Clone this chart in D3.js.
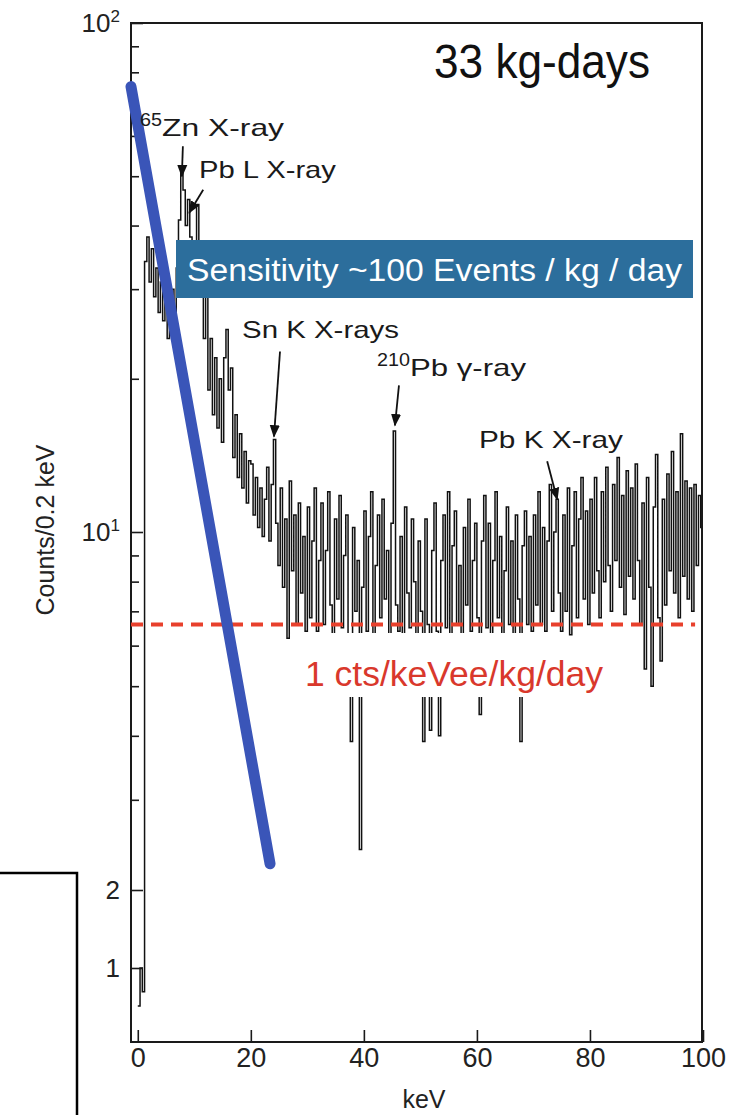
<!DOCTYPE html>
<html>
<head>
<meta charset="utf-8">
<script src="https://cdn.jsdelivr.net/npm/d3@7"></script>
<style>
body { margin: 0; background: #fff; }
svg text { font-family: "Liberation Sans", Arial, sans-serif; }
</style>
</head>
<body>
<script>
var w = 733;
var h = 1115;

// spectrum: counts per 0.2 keV, one value every 0.4 keV starting at 0 keV
var binStep = 0.4;
var counts = [
  0.7, 1.0, 0.8, 34, 38, 31, 36, 29, 33, 27, 31, 26, 29, 24, 27, 30, 26, 33, 41, 52, 47, 40, 45, 38, 33,
  36, 44, 29, 33, 24, 30, 19, 24, 17, 22, 16, 20, 15, 22, 25, 19, 21, 14, 17, 12.8, 15.6, 12.2, 14.4, 11.4, 13.8,
  13.6, 10.8, 12.8, 10.2, 12.2, 9.8, 11.6, 13.4, 9.6, 12.4, 15.2, 10.4, 8.6, 12.2, 7.8, 10.6, 6.2, 12.6, 8.4, 10.8, 6.6, 11.4, 7.6, 9.8, 6.4,
  11.2, 6.8, 9.6, 12.2, 6.4, 8.8, 11.4, 6.6, 9.2, 12.0, 7.2, 6.2, 10.6, 7.4, 11.8, 6.5, 9.0, 10.8, 6.3, 3.9, 10.2, 7.0, 8.8, 2.4, 7.8,
  11.0, 6.4, 9.8, 12.0, 6.2, 8.6, 10.8, 6.8, 11.6, 7.4, 9.2, 6.3, 10.4, 15.8, 7.2, 6.4, 9.8, 6.2, 11.2, 7.6, 6.5, 10.6, 8.0, 6.2, 9.6,
  7.0, 3.9, 10.6, 6.6, 4.1, 9.2, 11.4, 6.4, 4.0, 8.8, 10.8, 6.5, 12.0, 6.2, 9.4, 11.0, 6.6, 8.6, 6.3, 10.2, 7.2, 11.6, 6.4, 8.8, 10.4,
  6.8, 4.4, 9.6, 11.8, 6.5, 10.4, 6.3, 8.8, 12.0, 6.8, 9.8, 6.2, 8.4, 11.2, 6.6, 9.6, 6.3, 10.8, 7.4, 3.9, 9.4, 11.0, 6.6, 9.8, 6.4,
  10.8, 7.2, 12.0, 6.6, 10.2, 6.4, 9.6, 12.4, 7.0, 10.0, 11.6, 7.6, 6.4, 10.8, 7.0, 12.2, 6.3, 9.4, 12.0, 6.8, 10.6, 12.8, 7.4, 11.0, 6.6,
  11.6, 7.6, 12.8, 8.4, 6.8, 12.0, 8.0, 13.4, 8.6, 7.0, 12.4, 8.8, 14.0, 7.8, 11.8, 6.9, 13.2, 8.2, 12.2, 7.4, 13.6, 8.8, 6.6, 11.4, 5.4,
  12.8, 7.8, 5.0, 11.2, 14.2, 6.8, 5.6, 11.6, 7.2, 13.0, 8.4, 14.4, 7.6, 12.0, 6.8, 15.6, 8.2, 12.6, 7.4, 12.2, 7.0, 12.4, 8.6, 11.8, 10.2
];

// overlays
var fitE = [-1.2, 23.4];       // blue sensitivity line, keV
var fitV = [75, 2.25];         // counts/0.2 keV
var limitV = 6.6;              // 1 cts/keVee/kg/day * 33 kg-days * 0.2 keV
var limitE = [-1.2, 98.6];

// peak annotations (arrow tip: energy, counts)
var peakLabels = ["65Zn X-ray", "Pb L X-ray", "Sn K X-rays", "210Pb \u03b3-ray", "Pb K X-ray"];
var peakE = [7.8, 9.1, 24.1, 45.5, 74.2];
var peakV = [50, 42.4, 15.4, 16.2, 11.6];

// axes
var xTicks = [0, 20, 40, 60, 80, 100];
var yTicks = [100, 10, 2, 1];
var yTickBase = ["10", "10", "2", "1"];
var yTickExp = ["2", "1", "", ""];
var yMinor = [90, 80, 70, 60, 50, 40, 30, 20, 9, 8, 7, 6, 5, 4, 3];

var plotL = 131, plotR = 702, plotT = 23, plotB = 1042;

var x = d3.scaleLinear().domain([-1.2, 100]).range([plotL, 703]);
// scanned axis: log above 2, squeezed below
var y = d3.scaleLog().domain([100, 10, 2, 1, 0.5]).range([plotT, 532, 890, 968, plotB]);

var svg = d3.select("body").append("svg")
    .attr("width", w)
    .attr("height", h);

// stray box at lower left of the slide
svg.append("path")
    .attr("d", "M-5,873 H77 V1120")
    .attr("fill", "none")
    .attr("stroke", "#000")
    .attr("stroke-width", 2.5);

// spectrum
var bins = counts.map(function(c, i) { return {e: i * binStep, v: c}; });
bins.push({e: 100, v: counts[counts.length - 1]});

var line = d3.line()
    .x(function(d) { return x(d.e); })
    .y(function(d) { return y(d.v); })
    .curve(d3.curveStepAfter);

svg.append("path")
    .datum(bins)
    .attr("d", line)
    .attr("fill", "none")
    .attr("stroke", "#111")
    .attr("stroke-width", 1.5);

// frame
svg.append("rect")
    .attr("x", plotL).attr("y", plotT)
    .attr("width", plotR - plotL).attr("height", plotB - plotT)
    .attr("fill", "none")
    .attr("stroke", "#1a1a1a")
    .attr("stroke-width", 2);

// x axis
var xAxis = svg.append("g")
    .attr("transform", "translate(0," + plotB + ")")
    .call(d3.axisBottom(x).tickValues(xTicks).tickSize(-12).tickPadding(6));
xAxis.select(".domain").remove();
xAxis.selectAll("line").attr("stroke", "#1a1a1a").attr("stroke-width", 1.6);
xAxis.selectAll("text").attr("font-size", 27).attr("fill", "#222")
    .attr("font-family", "Liberation Sans, Arial, sans-serif");

// y axis
var yAxis = svg.append("g")
    .attr("transform", "translate(" + plotL + ",0)")
    .call(d3.axisLeft(y).tickValues(yTicks)
        .tickFormat(function(d, i) { return yTickBase[i]; })
        .tickSize(-12).tickPadding(11));
yAxis.select(".domain").remove();
yAxis.selectAll("line").attr("stroke", "#1a1a1a").attr("stroke-width", 1.6);
yAxis.selectAll("text").attr("font-size", 26).attr("fill", "#222")
    .attr("font-family", "Liberation Sans, Arial, sans-serif")
    .each(function(d, i) {
        if (!yTickExp[i]) return;
        var t = d3.select(this);
        t.text(null);
        t.append("tspan").text(yTickBase[i]);
        t.append("tspan").attr("font-size", 17).attr("dy", "-0.55em").text(yTickExp[i]);
    });

var yMinorAxis = svg.append("g")
    .attr("transform", "translate(" + plotL + ",0)")
    .call(d3.axisLeft(y).tickValues(yMinor).tickFormat(function() { return ""; }).tickSize(-8));
yMinorAxis.select(".domain").remove();
yMinorAxis.selectAll("line").attr("stroke", "#1a1a1a").attr("stroke-width", 1.6);

svg.append("text")
    .attr("transform", "translate(54,530) rotate(-90)")
    .attr("text-anchor", "middle")
    .attr("font-size", 25)
    .attr("fill", "#222")
    .text("Counts/0.2  keV");

svg.append("text")
    .attr("x", 424).attr("y", 1108)
    .attr("text-anchor", "middle")
    .attr("font-size", 25)
    .attr("fill", "#222")
    .text("keV");

// white patch behind the red label
svg.append("rect")
    .attr("x", 293).attr("y", 633)
    .attr("width", 257).attr("height", 64)
    .attr("fill", "#fff");

// red dashed limit
svg.append("line")
    .attr("x1", x(limitE[0])).attr("x2", x(limitE[1]))
    .attr("y1", y(limitV)).attr("y2", y(limitV))
    .attr("stroke", "#e8402c")
    .attr("stroke-width", 4)
    .attr("stroke-dasharray", "12,8");

svg.append("text")
    .attr("x", 305).attr("y", 686)
    .attr("font-size", 35)
    .attr("fill", "#d9382c")
    .attr("textLength", 298)
    .attr("lengthAdjust", "spacingAndGlyphs")
    .text("1 cts/keVee/kg/day");

// blue sensitivity banner
svg.append("rect")
    .attr("x", 176).attr("y", 240)
    .attr("width", 517).attr("height", 58)
    .attr("fill", "#2c6e9c");

svg.append("text")
    .attr("x", 187).attr("y", 281)
    .attr("font-family", "Lato, 'Open Sans', sans-serif")
    .attr("font-size", 31)
    .attr("fill", "#fff")
    .attr("textLength", 495)
    .attr("lengthAdjust", "spacingAndGlyphs")
    .text("Sensitivity ~100 Events / kg / day");

// exposure label
svg.append("text")
    .attr("x", 434).attr("y", 78)
    .attr("font-size", 48)
    .attr("fill", "#111")
    .attr("textLength", 216)
    .attr("lengthAdjust", "spacingAndGlyphs")
    .text("33 kg-days");

// blue fitted line
svg.append("line")
    .attr("x1", x(fitE[0])).attr("y1", y(fitV[0]))
    .attr("x2", x(fitE[1])).attr("y2", y(fitV[1]))
    .attr("stroke", "#3a55b8")
    .attr("stroke-width", 11)
    .attr("stroke-linecap", "round");

// annotations
svg.append("defs").append("marker")
    .attr("id", "head")
    .attr("viewBox", "0 0 10 10")
    .attr("refX", 9).attr("refY", 5)
    .attr("markerWidth", 7).attr("markerHeight", 7)
    .attr("orient", "auto")
    .append("path")
    .attr("d", "M0,1 L10,5 L0,9 Z")
    .attr("fill", "#111");

// superscript x, main-text origin, main-text width and arrow start offsets (pixels)
var supX = [140, null, null, 377, null];
var labelPos = [[162, 136], [199, 178], [242, 338], [410, 376], [479, 448]];
var labelW = [122, 137, 157, 116, 144];
var arrowFrom = [[1, -30], [14, -23], [6, -85], [4, -40], [-10, -38]];

peakLabels.forEach(function(lab, i) {
    var tx = x(peakE[i]), ty = y(peakV[i]);
    svg.append("line")
        .attr("x1", tx + arrowFrom[i][0]).attr("y1", ty + arrowFrom[i][1])
        .attr("x2", tx).attr("y2", ty)
        .attr("stroke", "#111")
        .attr("stroke-width", 1.8)
        .attr("marker-end", "url(#head)");

    var m = lab.match(/^(\d+)(.*)$/);
    if (m) {
        svg.append("text")
            .attr("x", supX[i]).attr("y", labelPos[i][1] - 10)
            .attr("font-size", 18)
            .attr("fill", "#1a1a1a")
            .attr("textLength", m[1].length * 11)
            .attr("lengthAdjust", "spacingAndGlyphs")
            .text(m[1]);
        lab = m[2];
    }
    svg.append("text")
        .attr("x", labelPos[i][0]).attr("y", labelPos[i][1])
        .attr("font-size", 24)
        .attr("fill", "#1a1a1a")
        .attr("textLength", labelW[i])
        .attr("lengthAdjust", "spacingAndGlyphs")
        .text(lab.trim());
});
</script>
</body>
</html>
